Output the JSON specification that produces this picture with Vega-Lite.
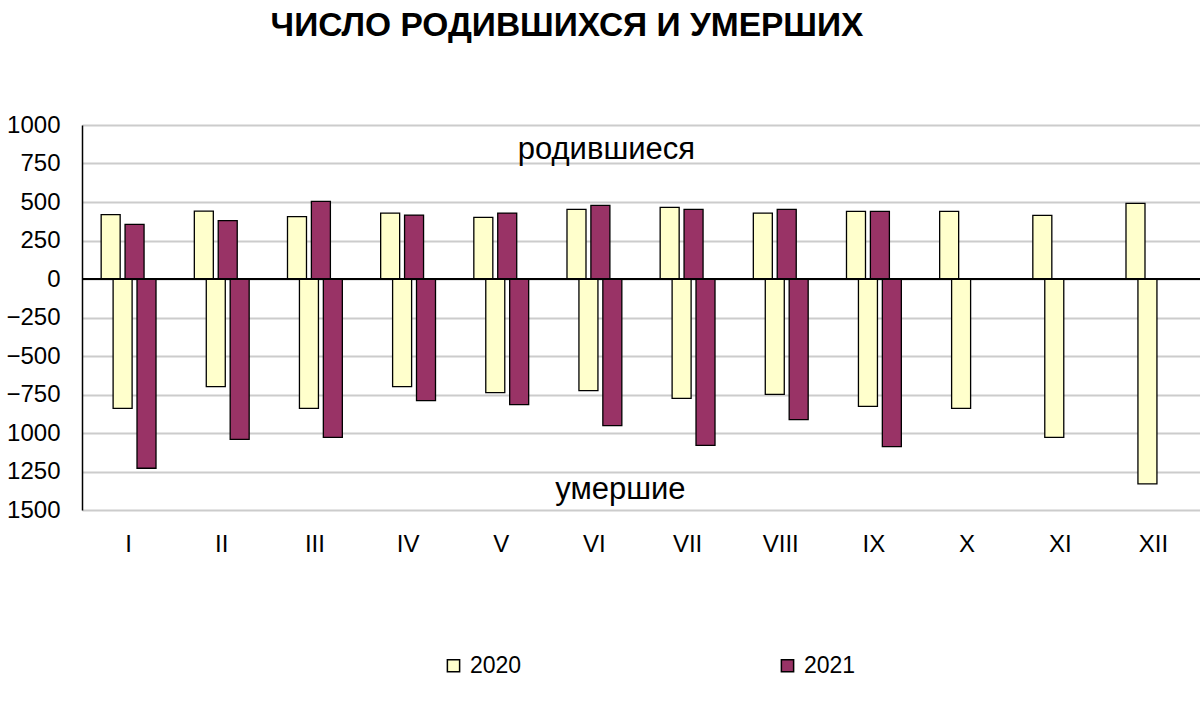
{
  "$schema": "https://vega.github.io/schema/vega-lite/v6.json",
  "width": 1118,
  "height": 385,
  "autosize": {"type": "none"},
  "padding": {"left": 82, "top": 125, "right": 0, "bottom": 210},
  "background": "white",
  "config": {
    "font": "Liberation Sans",
    "view": {"stroke": null},
    "axis": {"labelFont": "Liberation Sans", "labelColor": "#000000"},
    "axisX": {"labelAngle": 0, "labelFontSize": 24, "labelPadding": 22, "domain": false, "ticks": false, "grid": false, "title": null},
    "axisY": {
      "labelOverlap": false,
      "labelBound": false,
      "labelFontSize": 24,
      "labelPadding": 22,
      "ticks": false,
      "domain": true,
      "domainColor": "#000000",
      "domainWidth": 1.5,
      "grid": true,
      "gridColor": "#cccccc",
      "gridWidth": 2,
      "title": null
    }
  },
  "title": {
    "text": "ЧИСЛО РОДИВШИХСЯ И УМЕРШИХ",
    "font": "Liberation Sans",
    "fontSize": 33.5,
    "fontWeight": "bold",
    "color": "#000000",
    "anchor": "middle",
    "dx": -74,
    "offset": 70
  },
  "data": {
    "values": [
      {"m": "I", "year": "2020", "s": "b2020", "v": 418},
      {"m": "I", "year": "2020", "s": "d2020", "v": -840},
      {"m": "I", "year": "2021", "s": "b2021", "v": 355},
      {"m": "I", "year": "2021", "s": "d2021", "v": -1229},
      {"m": "II", "year": "2020", "s": "b2020", "v": 441},
      {"m": "II", "year": "2020", "s": "d2020", "v": -699},
      {"m": "II", "year": "2021", "s": "b2021", "v": 379},
      {"m": "II", "year": "2021", "s": "d2021", "v": -1041},
      {"m": "III", "year": "2020", "s": "b2020", "v": 405},
      {"m": "III", "year": "2020", "s": "d2020", "v": -840},
      {"m": "III", "year": "2021", "s": "b2021", "v": 504},
      {"m": "III", "year": "2021", "s": "d2021", "v": -1028},
      {"m": "IV", "year": "2020", "s": "b2020", "v": 428},
      {"m": "IV", "year": "2020", "s": "d2020", "v": -699},
      {"m": "IV", "year": "2021", "s": "b2021", "v": 415},
      {"m": "IV", "year": "2021", "s": "d2021", "v": -790},
      {"m": "V", "year": "2020", "s": "b2020", "v": 400},
      {"m": "V", "year": "2020", "s": "d2020", "v": -738},
      {"m": "V", "year": "2021", "s": "b2021", "v": 428},
      {"m": "V", "year": "2021", "s": "d2021", "v": -816},
      {"m": "VI", "year": "2020", "s": "b2020", "v": 452},
      {"m": "VI", "year": "2020", "s": "d2020", "v": -725},
      {"m": "VI", "year": "2021", "s": "b2021", "v": 478},
      {"m": "VI", "year": "2021", "s": "d2021", "v": -952},
      {"m": "VII", "year": "2020", "s": "b2020", "v": 465},
      {"m": "VII", "year": "2020", "s": "d2020", "v": -775},
      {"m": "VII", "year": "2021", "s": "b2021", "v": 452},
      {"m": "VII", "year": "2021", "s": "d2021", "v": -1080},
      {"m": "VIII", "year": "2020", "s": "b2020", "v": 428},
      {"m": "VIII", "year": "2020", "s": "d2020", "v": -749},
      {"m": "VIII", "year": "2021", "s": "b2021", "v": 452},
      {"m": "VIII", "year": "2021", "s": "d2021", "v": -913},
      {"m": "IX", "year": "2020", "s": "b2020", "v": 439},
      {"m": "IX", "year": "2020", "s": "d2020", "v": -827},
      {"m": "IX", "year": "2021", "s": "b2021", "v": 439},
      {"m": "IX", "year": "2021", "s": "d2021", "v": -1089},
      {"m": "X", "year": "2020", "s": "b2020", "v": 439},
      {"m": "X", "year": "2020", "s": "d2020", "v": -840},
      {"m": "XI", "year": "2020", "s": "b2020", "v": 413},
      {"m": "XI", "year": "2020", "s": "d2020", "v": -1028},
      {"m": "XII", "year": "2020", "s": "b2020", "v": 491},
      {"m": "XII", "year": "2020", "s": "d2020", "v": -1331}
    ]
  },
  "layer": [
    {
      "mark": {"type": "bar", "width": 19, "stroke": "#000000", "strokeWidth": 1.3},
      "encoding": {
        "x": {
          "field": "m",
          "type": "nominal",
          "sort": null,
          "scale": {
            "domain": ["I", "II", "III", "IV", "V", "VI", "VII", "VIII", "IX", "X", "XI", "XII"],
            "paddingInner": 0.487,
            "paddingOuter": 0.2435
          }
        },
        "xOffset": {
          "field": "s",
          "type": "nominal",
          "sort": null,
          "scale": {"domain": ["b2020", "d2020", "b2021", "d2021"], "paddingInner": 0, "paddingOuter": 0}
        },
        "y": {
          "field": "v",
          "type": "quantitative",
          "scale": {"domain": [-1500, 1000], "nice": false, "zero": true},
          "axis": {
            "values": [-1500, -1250, -1000, -750, -500, -250, 0, 250, 500, 750, 1000],
            "labelExpr": "datum.value <= -1000 ? format(-datum.value, 'd') : format(datum.value, 'd')"
          }
        },
        "color": {
          "field": "year",
          "type": "nominal",
          "scale": {"domain": ["2020", "2021"], "range": ["#FFFFCC", "#993366"]},
          "legend": {
            "title": null,
            "orient": "none",
            "legendX": 360,
            "legendY": 529,
            "direction": "horizontal",
            "columns": 2,
            "columnPadding": 254,
            "symbolType": "square",
            "symbolSize": 150,
            "symbolStrokeColor": "#000000",
            "symbolStrokeWidth": 1.5,
            "symbolOpacity": 1,
            "labelFontSize": 23,
            "labelFont": "Liberation Sans",
            "labelColor": "#000000",
            "labelOffset": 5
          }
        }
      }
    },
    {
      "mark": {"type": "rule", "color": "#000000", "strokeWidth": 1.3},
      "encoding": {
        "y": {
          "datum": 0,
          "type": "quantitative",
          "axis": {
            "values": [-1500, -1250, -1000, -750, -500, -250, 0, 250, 500, 750, 1000],
            "labelExpr": "datum.value <= -1000 ? format(-datum.value, 'd') : format(datum.value, 'd')"
          }
        }
      }
    },
    {
      "data": {"values": [{"label": "родившиеся", "m": "VI", "v": 838}]},
      "mark": {"type": "text", "fontSize": 31, "font": "Liberation Sans", "color": "#000000", "dx": 12, "baseline": "middle"},
      "encoding": {
        "x": {"field": "m", "type": "nominal", "sort": null},
        "y": {
          "field": "v",
          "type": "quantitative",
          "axis": {
            "values": [-1500, -1250, -1000, -750, -500, -250, 0, 250, 500, 750, 1000],
            "labelExpr": "datum.value <= -1000 ? format(-datum.value, 'd') : format(datum.value, 'd')"
          }
        },
        "text": {"field": "label"}
      }
    },
    {
      "data": {"values": [{"label": "умершие", "m": "VI", "v": -1370}]},
      "mark": {"type": "text", "fontSize": 31, "font": "Liberation Sans", "color": "#000000", "dx": 26, "baseline": "middle"},
      "encoding": {
        "x": {"field": "m", "type": "nominal", "sort": null},
        "y": {
          "field": "v",
          "type": "quantitative",
          "axis": {
            "values": [-1500, -1250, -1000, -750, -500, -250, 0, 250, 500, 750, 1000],
            "labelExpr": "datum.value <= -1000 ? format(-datum.value, 'd') : format(datum.value, 'd')"
          }
        },
        "text": {"field": "label"}
      }
    }
  ]
}
